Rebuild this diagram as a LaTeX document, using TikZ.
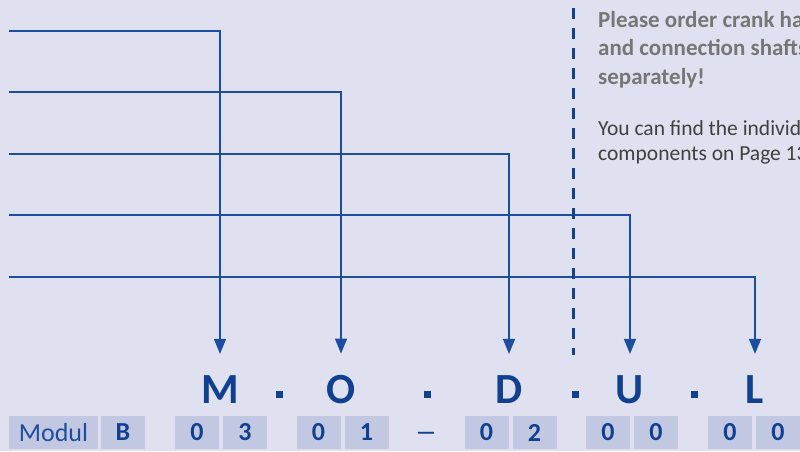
\documentclass[tikz,border=0pt]{standalone}
\usepackage{fontspec}
\setmainfont{Carlito}
\usetikzlibrary{arrows.meta}
\definecolor{bgcol}{HTML}{DFE1F0}
\definecolor{boxcol}{HTML}{C3C8E2}
\definecolor{linecol}{HTML}{1D4D9E}
\definecolor{lettercol}{HTML}{114091}
\definecolor{notegrey}{HTML}{767676}
\definecolor{notetext}{HTML}{404040}
\tikzstyle{feed}=[draw=linecol, line width=1.3pt, -{Triangle[width=12pt,length=15pt]}, shorten >=21pt]
\tikzstyle{sepline}=[draw=lettercol, line width=3pt, dash pattern=on 11pt off 9pt]
\tikzstyle{letter}=[text=lettercol, font=\fontsize{43}{43}\selectfont\bfseries, inner sep=0pt, anchor=base]
\tikzstyle{sqdot}=[fill=lettercol, minimum size=7pt, inner sep=0pt]
\tikzstyle{codebox}=[fill=boxcol, text=lettercol, minimum width=44pt, minimum height=33pt, inner sep=0pt, font=\fontsize{26}{26}\selectfont\bfseries]
\tikzstyle{note}=[anchor=north west, align=left, inner sep=0pt]
\newcommand{\codepair}[4]{% name, middle x, left digit, right digit
	\node[codebox] (#1a) at (#2-24,432.5) {#3};
	\node[codebox] (#1b) at (#2+24,432.5) {#4};
}

\begin{document}
\begin{tikzpicture}[x=1pt,y=-1pt]
	\useasboundingbox (0,0) rectangle (800,451);
	\fill[bgcol] (0,0) rectangle (800,451);
	\clip (0,0) rectangle (800,451);
	% big letters
	\node[letter] (M) at (220,403) {M};
	\node[letter] (O) at (341,403) {O};
	\node[letter] (D) at (509,403) {D};
	\node[letter] (U) at (630,403) {U};
	\node[letter] (L) at (755,403) {L};
	\node[sqdot] (d1) at (279,394) {};
	\node[sqdot] (d2) at (427,394) {};
	\node[sqdot] (d3) at (575,394) {};
	\node[sqdot] (d4) at (694,394) {};
	% feed lines
	\coordinate (in1) at (9,31);
	\coordinate (in2) at (9,92);
	\coordinate (in3) at (9,154);
	\coordinate (in4) at (9,215);
	\coordinate (in5) at (9,277);
	\draw[feed] (in1) -| (M);
	\draw[feed] (in2) -| (O);
	\draw[feed] (in3) -| (D);
	\draw[feed] (in4) -| (U);
	\draw[feed] (in5) -| (L);
	% separator
	\coordinate (sepTop) at (573,8);
	\coordinate (sepBot) at (573,355);
	\draw[sepline] (sepTop) -- (sepBot);
	\node[note, text=notegrey, font=\fontsize{23}{28.5}\selectfont\bfseries] (order) at (598,11)
		{Please order crank handles\\and connection shafts\\separately!};
	\node[note, text=notetext, font=\fontsize{21.5}{25}\selectfont] (find) at (598,120)
		{You can find the individual\\components on Page 13};
	% code row
	\node[codebox, minimum width=89pt, font=\fontsize{26}{26}\selectfont, text=linecol] (modul) at (53.5,432.5) {Modul};
	\node[codebox] (B) at (123,432.5) {B};
	\codepair{m}{221}{0}{3}
	\codepair{o}{342.5}{0}{1}
	\node[text=lettercol, font=\fontsize{22}{22}\selectfont\bfseries, inner sep=0pt] (dash) at (426,436) {—};
	\codepair{d}{510.5}{0}{2}
	\codepair{u}{632}{0}{0}
	\codepair{l}{754}{0}{0}
\end{tikzpicture}
\end{document}
